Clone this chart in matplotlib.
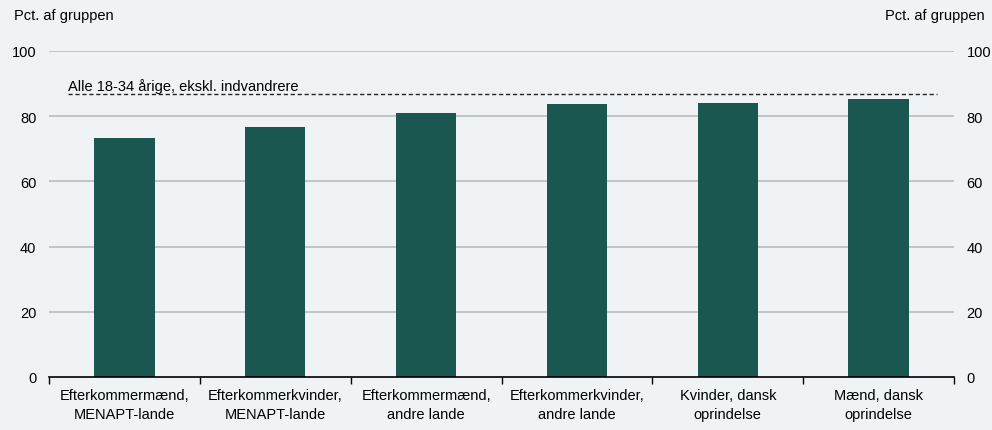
import matplotlib
matplotlib.use("Agg")
import matplotlib.pyplot as plt
from matplotlib import font_manager as fm
import numpy as np

names = {f.name for f in fm.fontManager.ttflist}
fam = "Liberation Sans Narrow" if "Liberation Sans Narrow" in names else "Liberation Sans"
plt.rcParams['font.family'] = [fam, 'DejaVu Sans']

categories = ["Efterkommermænd,\nMENAPT-lande", "Efterkommerkvinder,\nMENAPT-lande",
              "Efterkommermænd,\nandre lande", "Efterkommerkvinder,\nandre lande",
              "Kvinder, dansk\noprindelse", "Mænd, dansk\noprindelse"]
values = [73.4, 76.7, 80.9, 83.6, 84.1, 85.2]
reference_value = 86.8
reference_label = "Alle 18-34 årige, ekskl. indvandrere"
yticks = [0, 20, 40, 60, 80, 100]
unit_label = "Pct. af gruppen"

bg = "#F0F3F6"
bar_color = "#1A5750"
fs = 10.5

fig = plt.figure(figsize=(9.92, 4.31), dpi=100, facecolor=bg)
ax = fig.add_axes([49/992, 1-378/431, (954-49)/992, (378-52)/431], facecolor=bg)

x = np.arange(len(categories))
ax.bar(x, values, width=0.4, color=bar_color, zorder=3)
ax.set_xlim(-0.5, len(categories)-0.5)
ax.set_ylim(0, 100)

for v in yticks[1:]:
    ax.axhline(v, color="#B9BBBD", lw=1.2, zorder=1)

ax.plot([-0.374, 5.39], [reference_value]*2, ls=(0, (3, 2)), color="#222222", lw=1.0, zorder=4)
ax.text(-0.374, reference_value+0.3, reference_label, fontsize=fs, ha="left", va="bottom", zorder=5)

for s in ["top", "left", "right"]:
    ax.spines[s].set_visible(False)
ax.spines["bottom"].set_color("#000000")
ax.spines["bottom"].set_linewidth(1.2)
ax.spines["bottom"].set_zorder(6)

ax.set_xticks(x)
ax.set_xticklabels(categories, fontsize=fs, linespacing=1.45)
ax.set_xticks(np.arange(-0.5, len(categories)), minor=True)
ax.tick_params(axis="x", which="major", length=0, pad=8)
ax.tick_params(axis="x", which="minor", length=5, width=1.0, color="#000000", direction="out")

ax.set_yticks(yticks)
ax.set_yticklabels([str(v) for v in yticks], fontsize=fs)
ax.tick_params(axis="y", length=0, pad=9, labelleft=True, labelright=True)

fig.text(14/992, 1-16/431, unit_label, fontsize=fs, ha="left", va="center")
fig.text(985/992, 1-16/431, unit_label, fontsize=fs, ha="right", va="center")

fig.savefig("out.png", dpi=100, facecolor=bg)
